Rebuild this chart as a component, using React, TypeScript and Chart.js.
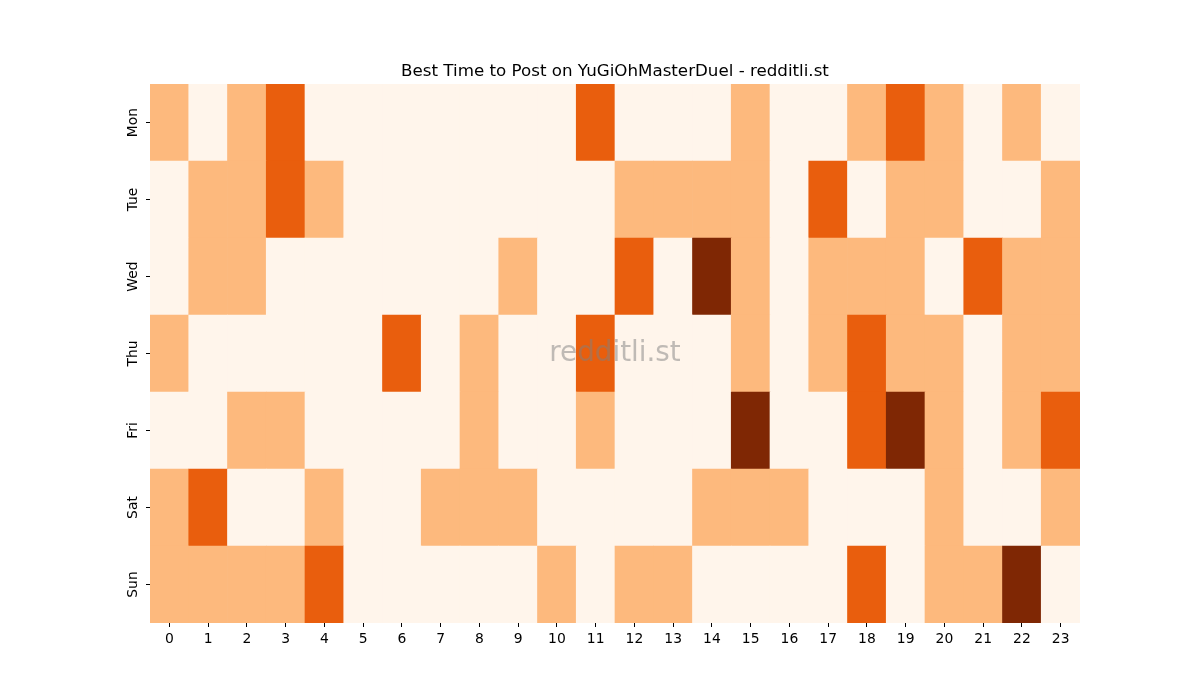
import { useEffect, useRef } from 'react';
import { Chart, registerables } from 'chart.js';

Chart.register(...registerables);

const hours = Array.from({ length: 24 }, (_, i) => String(i));
const days = ['Mon', 'Tue', 'Wed', 'Thu', 'Fri', 'Sat', 'Sun'];

// activity level per hour (0 = low ... 3 = best)
const mon = [1, 0, 1, 2, 0, 0, 0, 0, 0, 0, 0, 2, 0, 0, 0, 1, 0, 0, 1, 2, 1, 0, 1, 0];
const tue = [0, 1, 1, 2, 1, 0, 0, 0, 0, 0, 0, 0, 1, 1, 1, 1, 0, 2, 0, 1, 1, 0, 0, 1];
const wed = [0, 1, 1, 0, 0, 0, 0, 0, 0, 1, 0, 0, 2, 0, 3, 1, 0, 1, 1, 1, 0, 2, 1, 1];
const thu = [1, 0, 0, 0, 0, 0, 2, 0, 1, 0, 0, 2, 0, 0, 0, 1, 0, 1, 2, 1, 1, 0, 1, 1];
const fri = [0, 0, 1, 1, 0, 0, 0, 0, 1, 0, 0, 1, 0, 0, 0, 3, 0, 0, 2, 3, 1, 0, 1, 2];
const sat = [1, 2, 0, 0, 1, 0, 0, 1, 1, 1, 0, 0, 0, 0, 1, 1, 1, 0, 0, 0, 1, 0, 0, 1];
const sun = [1, 1, 1, 1, 2, 0, 0, 0, 0, 0, 1, 0, 1, 1, 0, 0, 0, 0, 2, 0, 1, 1, 3, 0];

const levels = [mon, tue, wed, thu, fri, sat, sun];
const palette = ['#fff5eb', '#fdb97d', '#e95e0d', '#7f2704'];

const TITLE = 'Best Time to Post on YuGiOhMasterDuel - redditli.st';
const WATERMARK = 'redditli.st';
const FONT = '"DejaVu Sans", sans-serif';

const overlay = {
  id: 'overlay',
  afterDatasetsDraw(chart: Chart) {
    const { ctx, chartArea } = chart;
    const yScale = chart.scales.y;
    ctx.save();
    ctx.textAlign = 'center';
    ctx.textBaseline = 'middle';
    ctx.font = `27.8px ${FONT}`;
    ctx.fillStyle = 'rgba(128,128,128,0.5)';
    ctx.fillText(WATERMARK, (chartArea.left + chartArea.right) / 2, (chartArea.top + chartArea.bottom) / 2);

    // rotated day labels, centred on their ticks
    ctx.fillStyle = '#000';
    ctx.font = `13.9px ${FONT}`;
    days.forEach((day, i) => {
      const y = yScale.getPixelForValue(days.length - i - 0.5);
      ctx.save();
      ctx.translate(chartArea.left - 17, y);
      ctx.rotate(-Math.PI / 2);
      ctx.fillText(day, 0, 0);
      ctx.restore();
    });

    ctx.font = `16.7px ${FONT}`;
    ctx.textBaseline = 'alphabetic';
    ctx.fillText(TITLE, (chartArea.left + chartArea.right) / 2, chartArea.top - 8);
    ctx.restore();
  },
};

const App = () => {
  const canvasRef = useRef<HTMLCanvasElement | null>(null);
  const chartRef = useRef<Chart | null>(null);

  useEffect(() => {
    document.body.style.margin = '0';
    if (!canvasRef.current) return;
    if (chartRef.current) chartRef.current.destroy();

    // bottom row first so that Mon ends up on top of the stack
    const datasets = days
      .map((day, r) => ({
        label: day,
        data: hours.map(() => 1),
        backgroundColor: levels[r].map(v => palette[v]),
        barPercentage: 1,
        categoryPercentage: 1,
        borderWidth: 0,
        borderSkipped: false,
      }))
      .reverse();

    chartRef.current = new Chart(canvasRef.current, {
      type: 'bar',
      data: { labels: hours, datasets },
      options: {
        animation: false,
        responsive: false,
        devicePixelRatio: 1,
        layout: { padding: { left: 0, right: 120, top: 84, bottom: 0 } },
        plugins: {
          legend: { display: false },
          tooltip: { enabled: false },
          title: { display: false },
        },
        scales: {
          x: {
            stacked: true,
            grid: { offset: false, drawOnChartArea: false, drawTicks: true, tickLength: 4, color: '#000' },
            border: { display: false },
            ticks: { color: '#000', font: { family: FONT, size: 13.9 }, padding: 4, maxRotation: 0, autoSkip: false },
            afterFit: (scale: any) => {
              scale.height = 77;
            },
          },
          y: {
            stacked: true,
            min: 0,
            max: days.length,
            grid: { drawOnChartArea: false, drawTicks: true, tickLength: 4, color: '#000' },
            border: { display: false },
            afterBuildTicks: (scale: any) => {
              scale.ticks = days.map((_, i) => ({ value: i + 0.5 }));
            },
            ticks: { display: false },
            afterFit: (scale: any) => {
              scale.width = 150;
            },
          },
        },
      },
      plugins: [overlay],
    });

    return () => {
      if (chartRef.current) {
        chartRef.current.destroy();
        chartRef.current = null;
      }
    };
  }, []);

  return (
    <div style={{ width: 1200, height: 700, position: 'relative', background: '#fff' }}>
      <canvas ref={canvasRef} width={1200} height={700} />
    </div>
  );
};

export default App;
